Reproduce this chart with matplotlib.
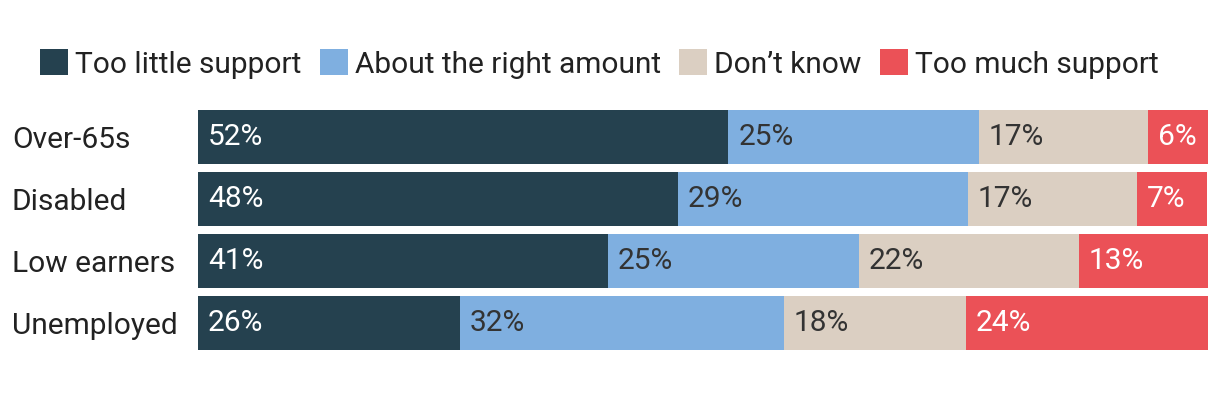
import matplotlib
matplotlib.use("Agg")
import matplotlib.pyplot as plt
import numpy as np

plt.rcParams["font.family"] = ["Roboto", "DejaVu Sans"]

# data
groups = ["Over-65s", "Disabled", "Low earners", "Unemployed"]
answers = ["Too little support", "About the right amount", "Don\u2019t know", "Too much support"]

# unrounded shares (segment lengths, % of each bar)
too_little = [52.5, 47.5, 40.6, 25.9]
about_right = [24.8, 28.7, 24.8, 32.1]
dont_know = [16.8, 16.8, 21.8, 18.0]
too_much = [5.9, 6.9, 12.9, 24.0]

# labels as printed on the bars
too_little_lbl = ["52%", "48%", "41%", "26%"]
about_right_lbl = ["25%", "29%", "25%", "32%"]
dont_know_lbl = ["17%", "17%", "22%", "18%"]
too_much_lbl = ["6%", "7%", "13%", "24%"]

colors = ["#25414f", "#7fafe0", "#dbcfc2", "#eb5157"]
text_colors = ["white", "#333333", "#333333", "white"]

series = [too_little, about_right, dont_know, too_much]
labels = [too_little_lbl, about_right_lbl, dont_know_lbl, too_much_lbl]

W, H, DPI = 12.2, 4.12, 100
FS = 21.5
fig = plt.figure(figsize=(W, H), dpi=DPI)
ax = fig.add_axes([198 / 1220, (412 - 350) / 412, 1010 / 1220, 240 / 412])

bar_h = 54 / 62
y = np.arange(len(groups))
left = np.zeros(len(groups))
handles = []
for i, name in enumerate(answers):
    vals = np.array(series[i])
    bars = ax.barh(y, vals, left=left, height=bar_h, color=colors[i],
                   label=name, linewidth=0)
    handles.append(bars)
    for j in range(len(groups)):
        ax.annotate(labels[i][j], xy=(left[j], y[j]),
                    xytext=(7.2, 0), textcoords="offset points",
                    ha="left", va="center", fontsize=FS, color=text_colors[i])
    left += vals

ax.set_xlim(0, 100)
ax.set_ylim(len(groups) - 1 + bar_h / 2, -bar_h / 2)
ax.set_yticks(y)
ax.set_yticklabels(groups, fontsize=FS, color="#222222", ha="left")
ax.tick_params(axis="y", length=0, pad=186 * 72 / DPI)
ax.set_xticks([])
for s in ax.spines.values():
    s.set_visible(False)

fig.legend(handles=handles, labels=answers, loc="center left",
           bbox_to_anchor=(40 / 1220, 1 - 64 / 412), ncol=4, frameon=False,
           fontsize=FS, handlelength=0.94, handleheight=0.94,
           handletextpad=0.23, columnspacing=0.62, borderpad=0,
           borderaxespad=0, labelcolor="#222222")

fig.savefig("out.png", dpi=DPI, facecolor="white")
